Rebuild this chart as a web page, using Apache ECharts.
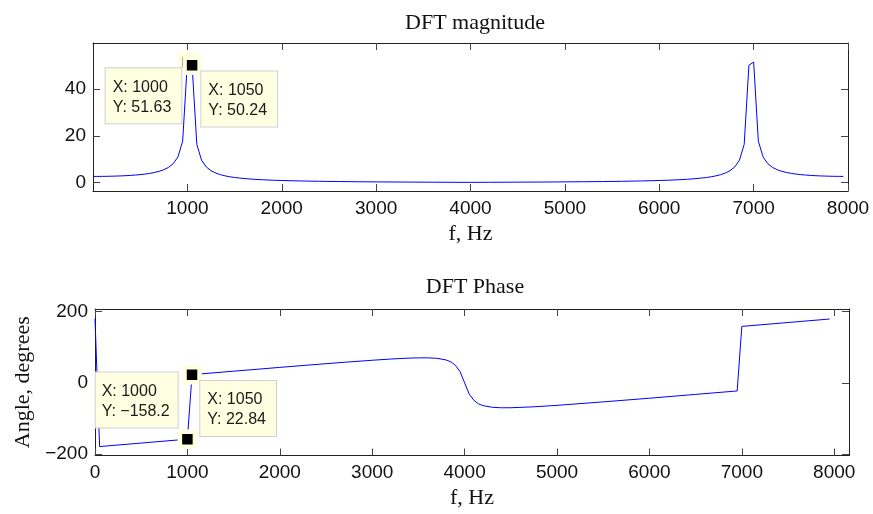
<!DOCTYPE html>
<html>
<head>
<meta charset="utf-8">
<script src="https://cdn.jsdelivr.net/npm/echarts@6/dist/echarts.min.js"></script>
<style>
  html, body { margin: 0; padding: 0; background: #fff; }
  #chart { width: 873px; height: 514px; }
</style>
</head>
<body>
<div id="chart"></div>
<script>
// magnitude of the DFT (Hz, |X|)
var magFreq = [0, 50, 100, 150, 200, 250, 300, 350, 400, 450, 500, 550, 600, 650, 700, 750,
  800, 850, 900, 950, 1000, 1050, 1100, 1150, 1200, 1250, 1300, 1350, 1400, 1450, 1500,
  1600, 1700, 1800, 1900, 2000, 2200, 2400, 2600, 2800, 3000, 3200, 3400, 3600, 3800, 4000,
  4200, 4400, 4600, 4800, 5000, 5200, 5400, 5600, 5800, 6000, 6100, 6200, 6300, 6400,
  6500, 6550, 6600, 6650, 6700, 6750, 6800, 6850, 6900, 6950, 7000, 7050, 7100, 7150,
  7200, 7250, 7300, 7350, 7400, 7450, 7500, 7550, 7600, 7650, 7700, 7750, 7800, 7850, 7900, 7950];
var magValues = [2.553, 2.559, 2.577, 2.607, 2.651, 2.710, 2.786, 2.881, 3.000, 3.147, 3.329,
  3.558, 3.849, 4.225, 4.726, 5.418, 6.427, 8.026, 10.92, 17.69, 51.63, 50.24, 16.30, 9.527,
  6.629, 5.025, 4.007, 3.306, 2.794, 2.404, 2.098,
  1.650, 1.339, 1.110, 0.936, 0.800, 0.599, 0.460, 0.357, 0.278, 0.214, 0.161, 0.115, 0.075, 0.036, 0.0,
  0.036, 0.075, 0.115, 0.161, 0.214, 0.278, 0.357, 0.460, 0.599, 0.800, 0.936, 1.110, 1.339, 1.650,
  2.098, 2.404, 2.794, 3.306, 4.007, 5.025, 6.629, 9.527, 16.30, 50.24, 51.63, 17.69, 10.92, 8.026,
  6.427, 5.418, 4.726, 4.225, 3.849, 3.558, 3.329, 3.147, 3.000, 2.881, 2.786, 2.710, 2.651, 2.607, 2.577, 2.559];

// phase of the DFT in degrees
var phaseFreq = [0, 50, 500, 1000, 1050, 1500, 2000, 2500, 2750, 3000, 3200, 3300, 3400, 3500,
  3600, 3700, 3800, 3850, 3900, 3950, 4000, 4050, 4100, 4150, 4200, 4300, 4400, 4500, 4750,
  5000, 5500, 6000, 6500, 6950, 7000, 7500, 7950];
var phaseValues = [179.9, -178.9, -169.1, -158.2, 22.84, 32.5, 43.2, 53.6, 58.5, 63.2, 66.6, 68.0,
  69.2, 69.9, 70.0, 68.7, 64.0, 58.9, 49.1, 31.8, 0.0, -31.9, -49.1, -59.0, -64.2, -68.8, -70.1,
  -70.0, -67.4, -63.3, -53.6, -43.3, -32.6, -22.9, 158.2, 169.1, 178.9];

// data tips
var magTips = [[1000, 51.63], [1050, 50.24]];
var phaseTips = [[1000, -158.2], [1050, 22.84]];

// ticks
var magXTicks = [1000, 2000, 3000, 4000, 5000, 6000, 7000, 8000];
var phaseXTicks = [0, 1000, 2000, 3000, 4000, 5000, 6000, 7000, 8000];
var magYTicks = [0, 20, 40];
var phaseYTicks = [-200, 0, 200];

function zipXY(xs, ys) {
  var out = [];
  for (var i = 0; i < xs.length; i++) out.push([xs[i], ys[i]]);
  return out;
}
function minusFmt(v) { return String(v).replace('-', '\u2212'); }

var lineCol = '#222';
var tickFont = 'Liberation Sans';
var serif = 'Liberation Serif';

function makeX(grid, min, max, ticks, pos, show) {
  return {
    type: 'value', gridIndex: grid, min: min, max: max, position: pos,
    axisLine: { show: true, onZero: false, lineStyle: { color: lineCol, width: 1 } },
    axisTick: { show: true, inside: true, length: 7, customValues: ticks, lineStyle: { color: '#444' } },
    axisLabel: { show: show, customValues: ticks, margin: 8, fontSize: 19, fontFamily: tickFont, color: '#111', formatter: minusFmt },
    splitLine: { show: false }
  };
}
function makeY(grid, min, max, ticks, pos, show) {
  return {
    type: 'value', gridIndex: grid, min: min, max: max, position: pos,
    axisLine: { show: true, onZero: false, lineStyle: { color: lineCol, width: 1 } },
    axisTick: { show: true, inside: true, length: 7, customValues: ticks, lineStyle: { color: '#444' } },
    axisLabel: { show: show, customValues: ticks, margin: 7, fontSize: 19, fontFamily: tickFont, color: '#111', formatter: minusFmt },
    splitLine: { show: false }
  };
}

function tipSeries(xi, yi, pt, off) {
  return {
    type: 'scatter', xAxisIndex: xi, yAxisIndex: yi, z: 5,
    symbol: 'rect', symbolSize: 15,
    itemStyle: { color: '#000', borderColor: '#ffffe1', borderWidth: 4.5, opacity: 1 },
    label: {
      show: true, position: off, align: 'left', verticalAlign: 'top',
      formatter: 'X: ' + pt[0] + '\nY: ' + minusFmt(pt[1]),
      fontSize: 16, lineHeight: 20, fontFamily: tickFont, color: '#1a1a1a',
      backgroundColor: '#ffffe1', borderColor: '#cfcfcf', borderWidth: 1,
      padding: [9, 10, 6, 7]
    },
    data: [pt]
  };
}

var myChart = echarts.init(document.getElementById('chart'), null, { renderer: 'canvas' });

var option = {
  animation: false,
  backgroundColor: '#fff',
  title: [
    { text: 'DFT magnitude', left: 470, top: 7, textAlign: 'center',
      textStyle: { fontFamily: serif, fontSize: 22, fontWeight: 'normal', color: '#111' } },
    { text: 'DFT Phase', left: 470, top: 271, textAlign: 'center',
      textStyle: { fontFamily: serif, fontSize: 22, fontWeight: 'normal', color: '#111' } }
  ],
  grid: [
    { left: 93, right: 25, top: 43, height: 148 },
    { left: 95, right: 24, top: 309, height: 146.5 }
  ],
  xAxis: [
    Object.assign(makeX(0, 0, 8000, magXTicks, 'bottom', true),
      { name: 'f, Hz', nameLocation: 'middle', nameGap: 32,
        nameTextStyle: { fontFamily: serif, fontSize: 22, color: '#111' } }),
    makeX(0, 0, 8000, magXTicks, 'top', false),
    Object.assign(makeX(1, 0, 8160, phaseXTicks, 'bottom', true),
      { name: 'f, Hz', nameLocation: 'middle', nameGap: 32,
        nameTextStyle: { fontFamily: serif, fontSize: 22, color: '#111' } }),
    makeX(1, 0, 8160, phaseXTicks, 'top', false)
  ],
  yAxis: [
    makeY(0, -3.7, 59.8, magYTicks, 'left', true),
    makeY(0, -3.7, 59.8, magYTicks, 'right', false),
    Object.assign(makeY(1, -204, 207, phaseYTicks, 'left', true),
      { name: 'Angle, degrees', nameLocation: 'middle', nameGap: 60, nameRotate: 90,
        nameTextStyle: { fontFamily: serif, fontSize: 22, color: '#111' } }),
    makeY(1, -204, 207, phaseYTicks, 'right', false)
  ],
  series: [
    {
      type: 'line', xAxisIndex: 0, yAxisIndex: 0, showSymbol: false,
      lineStyle: { color: '#0000ff', width: 1 }, data: zipXY(magFreq, magValues)
    },
    {
      type: 'line', xAxisIndex: 2, yAxisIndex: 2, showSymbol: false,
      lineStyle: { color: '#0000ff', width: 1 }, data: zipXY(phaseFreq, phaseValues)
    },
    tipSeries(0, 0, magTips[0], [-72, 16]),
    tipSeries(0, 0, magTips[1], [19, 16]),
    Object.assign(tipSeries(2, 2, phaseTips[0], [-82, -57]), {}),
    tipSeries(2, 2, phaseTips[1], [18, 16])
  ]
};
// the -158.2 box is a little narrower in the reference
option.series[4].label.padding = [9, 8, 6, 6];

myChart.setOption(option);
</script>
</body>
</html>
